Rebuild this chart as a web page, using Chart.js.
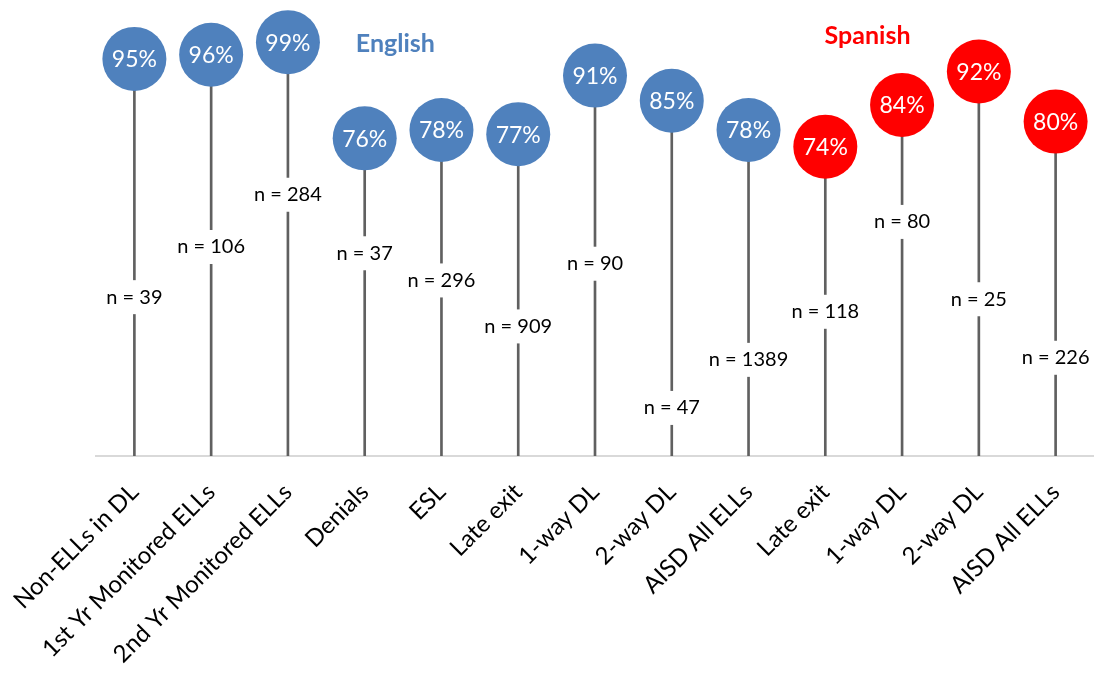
<!DOCTYPE html>
<html>
<head>
<meta charset="utf-8">
<script src="https://cdn.jsdelivr.net/npm/chart.js@4"></script>
<style>
  html, body { margin: 0; padding: 0; background: #fff; }
  #wrap { width: 1094px; height: 676px; }
</style>
</head>
<body>
<div id="wrap"><canvas id="lollipop"></canvas></div>
<script>
// Categories (English programs first, then Spanish)
const categories = [
    'Non-ELLs in DL', '1st Yr Monitored ELLs', '2nd Yr Monitored ELLs', 'Denials',
    'ESL', 'Late exit', '1-way DL', '2-way DL', 'AISD All ELLs',
    'Late exit', '1-way DL', '2-way DL', 'AISD All ELLs'
];
const percents = [95, 96, 99, 76, 78, 77, 91, 85, 78, 74, 84, 92, 80];
const groups = ['English', 'English', 'English', 'English', 'English', 'English', 'English', 'English', 'English',
                'Spanish', 'Spanish', 'Spanish', 'Spanish'];
const counts = [39, 106, 284, 37, 296, 909, 90, 47, 1389, 118, 80, 25, 226];
// where the "n = " label sits on each stem, in axis units
const countLabelAt = [38, 50, 62.5, 48.5, 42, 31, 46, 11.5, 23, 34.5, 56, 37.5, 23.5];

const groupColors = { English: '#4F81BD', Spanish: '#FF0000' };
const FONT = 'Lato, "Open Sans", sans-serif';

// Labels drawn on top of the circles and the stems
const lollipopLabels = {
    id: 'lollipopLabels',
    afterDatasetsDraw(chart) {
        const ctx = chart.ctx;
        const x = chart.scales.x;
        const y = chart.scales.y;
        const dots = chart.getDatasetMeta(1).data;

        ctx.save();
        ctx.textAlign = 'center';
        ctx.textBaseline = 'middle';

        // n = ... labels, with a white box that breaks the stem
        ctx.font = '20px ' + FONT;
        counts.forEach((n, i) => {
            const txt = 'n = ' + n;
            const px = x.getPixelForValue(i);
            const py = y.getPixelForValue(countLabelAt[i]);
            const w = ctx.measureText(txt).width + 8;
            ctx.fillStyle = '#ffffff';
            ctx.fillRect(px - w / 2, py - 17, w, 34);
            ctx.fillStyle = '#000000';
            ctx.fillText(txt, px, py);
        });

        // percentages inside the circles
        ctx.font = '23px ' + FONT;
        ctx.fillStyle = '#ffffff';
        dots.forEach((pt, i) => {
            ctx.fillText(percents[i] + '%', pt.x, pt.y + 1);
        });

        // group titles
        ctx.font = 'bold 25px ' + FONT;
        ctx.fillStyle = groupColors.English;
        ctx.fillText('English', x.getPixelForValue(3.4), 44);
        ctx.fillStyle = groupColors.Spanish;
        ctx.fillText('Spanish', x.getPixelForValue(9.55), 36);
        ctx.restore();
    }
};

new Chart(document.getElementById('lollipop'), {
    type: 'bar',
    data: {
        labels: categories,
        datasets: [{
            // stems
            type: 'bar',
            data: percents,
            backgroundColor: '#606060',
            barThickness: 2,
            order: 2
        }, {
            // heads
            type: 'line',
            data: percents,
            showLine: false,
            pointRadius: 32,
            pointHoverRadius: 32,
            pointBorderWidth: 0,
            pointBackgroundColor: groups.map(g => groupColors[g]),
            pointBorderColor: groups.map(g => groupColors[g]),
            clip: false,
            order: 1
        }]
    },
    options: {
        responsive: true,
        maintainAspectRatio: false,
        animation: false,
        layout: {
            autoPadding: false,
            padding: { left: 96, top: 38, right: 0, bottom: 0 }
        },
        scales: {
            x: {
                grid: {
                    display: false
                },
                border: {
                    color: '#d9d9d9',
                    width: 2
                },
                ticks: {
                    minRotation: 45,
                    maxRotation: 45,
                    color: '#000000',
                    padding: 14,
                    autoSkip: false,
                    font: { family: FONT, size: 24 }
                },
                afterFit(scale) {
                    scale.height = 220;
                }
            },
            y: {
                display: false,
                min: 0,
                max: 100
            }
        },
        plugins: {
            legend: { display: false },
            tooltip: { enabled: false }
        }
    },
    plugins: [lollipopLabels]
});
</script>
</body>
</html>
